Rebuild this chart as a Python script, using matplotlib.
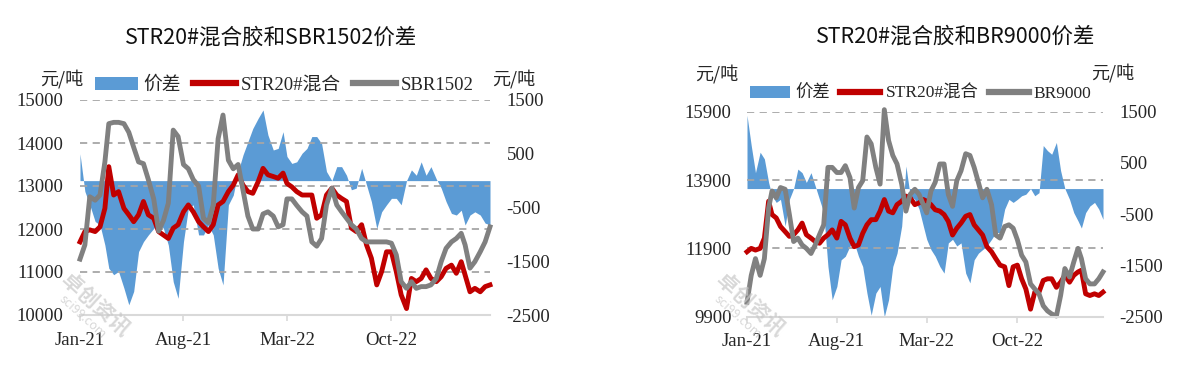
import matplotlib
matplotlib.use('Agg')
import matplotlib.pyplot as plt
import matplotlib.dates as mdates
from matplotlib.patches import Patch
from matplotlib.lines import Line2D
import pandas as pd

plt.rcParams['font.family'] = ['Liberation Serif', 'Noto Sans CJK SC']
plt.rcParams['axes.unicode_minus'] = False

# dates: 1st, 11th, 21st of each month, Jan-21 .. Apr-23
months = pd.date_range('2021-01-01', '2023-04-01', freq='MS')
dates = [m + pd.Timedelta(days=d) for m in months for d in (0, 10, 20)]

# ---- left chart: STR20# vs SBR1502 ----
str20_left = [11700, 11940, 11980, 11940, 12050, 12480, 13450, 12790, 12870, 12480,
              12330, 12170, 12330, 12640, 12330, 12250, 11940, 11860, 11780, 12020,
              12100, 12400, 12560, 12400, 12170, 12050, 11940, 12100, 12560, 12640,
              12870, 13020, 13260, 13020, 12870, 12830, 13100, 13410, 13260, 13220,
              13180, 13300, 13060, 12980, 12870, 12790, 12790, 12790, 12250, 12330,
              12790, 12950, 12790, 12710, 12640, 12020, 11940, 12100, 11630, 11320,
              10700, 11010, 11470, 11470, 11010, 10470, 10150, 10850, 10775, 10850,
              11050, 10850, 10775, 10890, 11085, 11160, 10970, 11240, 10930, 10540,
              10620, 10540, 10660, 10700]
sbr1502 = [11300, 11630, 12750, 12670, 12790, 13560, 14450, 14480, 14480, 14450,
           14250, 13900, 13560, 13520, 13150, 12700, 11950, 12200, 12600, 14300,
           14150, 13500, 13400, 13150, 13000, 12250, 12150, 12560, 14100, 14650,
           13600, 13400, 13500, 12900, 12300, 12000, 12000, 12350, 12400, 12300,
           12050, 12100, 12700, 12700, 12550, 12400, 12300, 11700, 11600, 11780,
           12560, 12950, 12560, 12400, 12250, 12100, 12000, 11780, 11700, 11700,
           11700, 11700, 11700, 11670, 11400, 10775, 10620, 10775, 10620, 10660,
           10660, 10700, 10850, 11240, 11550, 11700, 11780, 11900, 11630, 11090,
           11240, 11470, 11700, 12050]
spread_sbr = [500, -200, -450, -760, -825, -1200, -1630, -1750, -1690, -2000,
              -2310, -2060, -1320, -1135, -1010, -890, -760, -890, -1200, -1880,
              -2190, -1135, -515, -450, -1010, -1010, -825, -1010, -1630, -1940,
              -450, -270, 170, 480, 725, 970, 1160, 1315, 850, 570,
              600, 910, 450, 320, 350, 510, 600, 820, 820, 690,
              170, 0, 260, 260, 100, -170, -140, 230, -80, -390,
              -890, -580, -450, -330, -330, -450, 0, 200, 100, 350,
              100, 260, 30, -140, -390, -610, -640, -550, -825, -640,
              -580, -640, -790, -825]

# ---- right chart: STR20# vs BR9000 ----
str20_right = [11800, 11900, 11850, 11900, 12200, 13280, 12890, 12790, 12540, 12390,
               12250, 12300, 12440, 12640, 12300, 12200, 12100, 12050, 12200, 12300,
               12440, 12200, 12690, 12590, 12200, 11950, 12000, 12340, 12590, 12740,
               12740, 12990, 13330, 12990, 12940, 13180, 13280, 13430, 13380, 13180,
               13230, 13330, 13280, 13180, 13030, 12990, 12890, 12690, 12290, 12490,
               12640, 12840, 12890, 12590, 12440, 12290, 11950, 11800, 11600, 11410,
               11360, 10810, 11360, 11410, 11010, 10710, 10120, 10620, 10620, 10960,
               11010, 11010, 10760, 10910, 11110, 10910, 11110, 11210, 11260, 10570,
               10520, 10570, 10520, 10620]
br9000 = [10320, 11110, 11600, 11110, 11600, 13080, 13580, 13380, 13680, 13630,
          12890, 12100, 12200, 12000, 11900, 11750, 12000, 12300, 12590, 14270,
          14270, 14120, 14120, 14320, 13970, 13080, 13680, 13880, 15160, 14960,
          14270, 13780, 15960, 15060, 14620, 14370, 13780, 12990, 13480, 13630,
          13480, 13180, 12940, 13580, 13830, 14370, 14370, 13480, 13130, 13880,
          14170, 14670, 14620, 14270, 13830, 13380, 13630, 13180, 12290, 12200,
          12540, 12590, 12490, 12150, 11700, 11500, 10860, 10710, 10570, 10220,
          10070, 9980, 9920, 10520, 11310, 11060, 11500, 11900, 11600, 11010,
          10860, 10860, 11010, 11210]
spread_br = [1430, 840, 310, 710, 580, 120, -140, -270, -210, -730,
             -210, 0, 380, 310, 120, 310, 50, -210, -470, -1520,
             -2170, -1910, -1390, -1320, -1120, -1060, -1320, -1520, -2040, -2470,
             -2040, -1910, -2500, -2170, -1520, -1260, -730, 440, -140, -210,
             -400, -730, -990, -1190, -1320, -1520, -1650, -1060, -990, -1120,
             -1060, -1650, -1840, -1390, -1260, -1190, -1120, -990, -860, -860,
             -400, -210, -270, -210, -140, -110, 0, -140, -80, 840,
             740, 670, 900, 350, 0, -210, -470, -630, -770, -470,
             -340, -270, -400, -600]

xtick_dates = pd.to_datetime(['2021-01-01', '2021-08-01', '2022-03-01', '2022-10-01'])
spread_ticks = [-2500, -1500, -500, 500, 1500]

W, H = 1190, 368
BLUE, RED, GREY = '#5B9BD5', '#C00000', '#808080'
TXT = '#262626'
CJK = ['Noto Sans CJK SC', 'DejaVu Sans']

fig = plt.figure(figsize=(W / 100, H / 100), dpi=100)


def px(x0, y0, x1, y1):
    return [x0 / W, 1 - y1 / H, (x1 - x0) / W, (y1 - y0) / H]


def draw_chart(rect, str20, other, spread, other_name, price_ticks, title,
               title_xy, unit_l, unit_r, legend_xy, legend_fs, wm_xy, lpad, rpad):
    ax = fig.add_axes(rect)
    axr = ax.twinx()
    ax.set_zorder(axr.get_zorder() + 1)
    ax.patch.set_visible(False)

    axr.fill_between(dates, 0, spread, color=BLUE, lw=0)
    ax.plot(dates, str20, color=RED, lw=3.5, solid_joinstyle='round', clip_on=False)
    ax.plot(dates, other, color=GREY, lw=3.5, solid_joinstyle='round', clip_on=False)

    ax.set_ylim(price_ticks[0], price_ticks[-1])
    ax.set_yticks(price_ticks)
    axr.set_ylim(-2500, 1500)
    axr.set_yticks(spread_ticks)
    for v in price_ticks[1:]:
        ax.axhline(v, color='#a6a6a6', lw=1.3, ls=(0, (4, 3)), zorder=0.5)

    ax.set_xlim(dates[0], dates[-1])
    ax.set_xticks(xtick_dates)
    ax.xaxis.set_major_formatter(mdates.DateFormatter('%b-%y'))

    for a in (ax, axr):
        for s in ('top', 'left', 'right', 'bottom'):
            a.spines[s].set_visible(False)
    ax.spines['bottom'].set_visible(True)
    ax.spines['bottom'].set_color('#d9d9d9')
    ax.spines['bottom'].set_linewidth(1.5)

    ax.tick_params(axis='x', length=4, color='#d9d9d9', width=1.2, pad=8,
                   labelsize=13.5, labelcolor=TXT)
    ax.tick_params(axis='y', length=0, pad=lpad, labelsize=13.5, labelcolor=TXT)
    axr.tick_params(axis='y', length=0, pad=rpad, labelsize=13.5, labelcolor=TXT)

    fig.text(title_xy[0] / W, 1 - title_xy[1] / H, title, ha='center', va='center',
             fontsize=15.5, family=CJK, color='#111111')
    fig.text(unit_l[0] / W, 1 - unit_l[1] / H, '元/吨', ha='left', va='center',
             fontsize=13, family=CJK, color=TXT)
    fig.text(unit_r[0] / W, 1 - unit_r[1] / H, '元/吨', ha='left', va='center',
             fontsize=13, family=CJK, color=TXT)

    handles = [Patch(facecolor=BLUE, edgecolor='none'),
               Line2D([], [], color=RED, lw=4.5),
               Line2D([], [], color=GREY, lw=4.5)]
    fig.legend(handles, ['价差', 'STR20#混合', other_name], ncol=3, frameon=False,
               loc='center left', bbox_to_anchor=(legend_xy[0] / W, 1 - legend_xy[1] / H),
               fontsize=legend_fs, handlelength=2.3, handletextpad=0.3, columnspacing=0.6,
               borderpad=0, borderaxespad=0, labelcolor=TXT)

    # faint watermark
    fig.text(wm_xy[0] / W, 1 - wm_xy[1] / H, '卓创资讯', rotation=-42, ha='center',
             va='center', fontsize=15, weight='bold', family=CJK, color='#c8c8c8', alpha=0.7)
    fig.text((wm_xy[0] - 12) / W, 1 - (wm_xy[1] + 12) / H, 'sci99.com', rotation=-42,
             ha='center', va='center', fontsize=9, family=CJK, color='#c8c8c8', alpha=0.7)


draw_chart(px(80, 100, 490, 315), str20_left, sbr1502, spread_sbr, 'SBR1502',
           [10000, 11000, 12000, 13000, 14000, 15000], 'STR20#混合胶和SBR1502价差',
           (271, 38), (40, 79), (492, 79), (95, 85), 13.5, (95, 305), 12, 12)

draw_chart(px(747, 111.7, 1103, 316.7), str20_right, br9000, spread_br, 'BR9000',
           [9900, 11900, 13900, 15900], 'STR20#混合胶和BR9000价差',
           (956, 37), (695, 74), (1091, 73), (750, 94), 12.5, (750, 305), 11, 12)

fig.savefig('out.png', dpi=100)
